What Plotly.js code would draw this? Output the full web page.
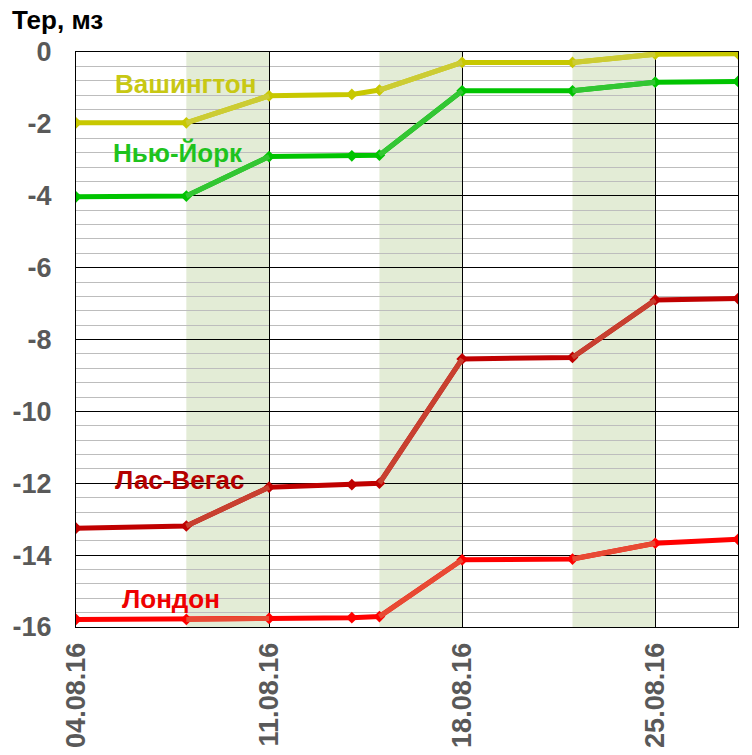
<!DOCTYPE html>
<html>
<head>
<meta charset="utf-8">
<script src="https://cdn.plot.ly/plotly-3.0.1.min.js"></script>
<style>html,body{margin:0;padding:0;background:#fff}#chart{width:752px;height:755px}</style>
</head>
<body>
<div id="chart"></div>
<script>
// ---- data ----
const dates = ['2016-08-04','2016-08-08','2016-08-11','2016-08-14','2016-08-15','2016-08-18','2016-08-22','2016-08-25','2016-08-28'];
const washington = [-1.97,-1.97,-1.22,-1.18,-1.06,-0.29,-0.29,-0.06,-0.05];
const newYork    = [-4.03,-4.01,-2.91,-2.89,-2.87,-1.08,-1.08,-0.84,-0.82];
const lasVegas   = [-13.25,-13.19,-12.11,-12.04,-12.00,-8.54,-8.50,-6.90,-6.86];
const london     = [-15.79,-15.79,-15.76,-15.74,-15.71,-14.13,-14.11,-13.67,-13.56];
const seriesNames = ['Вашингтон','Нью-Йорк','Лас-Вегас','Лондон'];
const shadeStart = ['2016-08-08','2016-08-15','2016-08-22'];
const shadeEnd   = ['2016-08-11','2016-08-18','2016-08-25'];
const tickDates  = ['2016-08-04','2016-08-11','2016-08-18','2016-08-25'];
const tickLabels = ['04.08.16','11.08.16','18.08.16','25.08.16'];
const yTickVals   = [0,-2,-4,-6,-8,-10,-12,-14,-16];
const yTickLabels = ['0','-2','-4','-6','-8','-10','-12','-14','-16'];
const yTitle = 'Тер, мз';

// ---- styles ----
const seriesValues = [washington, newYork, lasVegas, london];
const baseColors  = ['#c8c800','#00c400','#c00000','#ff0000'];
const lightColors = ['#cccc33','#33c633','#c84030','#e84a34'];
const textColors  = ['#c8c814','#1ec31e','#b40000','#ee0000'];
const labelPos = [[0.1647,0.944],[0.154,0.824],[0.156,0.2557],[0.1435,0.0487]];

function inShade(a,b){
  for(let k=0;k<shadeStart.length;k++){
    if(a>=shadeStart[k] && b<=shadeEnd[k]) return true;
  }
  return false;
}

const traces = [];
seriesValues.forEach((vals,si)=>{
  traces.push({
    x: dates, y: vals, type:'scatter', mode:'lines+markers',
    line:{color:baseColors[si], width:5},
    marker:{symbol:'diamond', size:9, color:baseColors[si]},
    hoverinfo:'skip', showlegend:false
  });
  for(let i=0;i<dates.length-1;i++){
    if(inShade(dates[i],dates[i+1])){
      traces.push({
        x:[dates[i],dates[i+1]], y:[vals[i],vals[i+1]], type:'scatter', mode:'lines',
        line:{color:lightColors[si], width:5},
        hoverinfo:'skip', showlegend:false
      });
    }
  }
});

const shapes = shadeStart.map((s,k)=>({
  type:'rect', xref:'x', yref:'paper', x0:s, x1:shadeEnd[k], y0:0, y1:1,
  fillcolor:'#e3ecd6', line:{width:0}, layer:'below'
}));

const annotations = seriesNames.map((n,si)=>({
  text:n, xref:'paper', yref:'paper', x:labelPos[si][0], y:labelPos[si][1],
  xanchor:'center', yanchor:'middle', showarrow:false,
  font:{family:'Liberation Sans, Arial, sans-serif', size:26, color:textColors[si], weight:'bold'}
}));

const tickFont = {family:'Liberation Sans, Arial, sans-serif', size:27, color:'#595959', weight:'bold'};

const layout = {
  width:752, height:755,
  margin:{l:76, r:14, t:52, b:128},
  paper_bgcolor:'#ffffff', plot_bgcolor:'#ffffff',
  title:{text:yTitle, xref:'container', yref:'container', x:0.016, xanchor:'left', y:0.9735, yanchor:'middle',
    font:{family:'Liberation Sans, Arial, sans-serif', size:26, color:'#000000', weight:'bold'}},
  xaxis:{
    type:'date', range:['2016-08-04','2016-08-28'],
    tickmode:'array', tickvals:tickDates, ticktext:tickLabels, tickangle:-90,
    showgrid:true, gridcolor:'#000000', gridwidth:1,
    showline:true, mirror:true, linecolor:'#000000', linewidth:1,
    ticks:'', tickfont:tickFont, ticklabelstandoff:4, zeroline:false, fixedrange:true
  },
  yaxis:{
    range:[-16,0], tickmode:'array', tickvals:yTickVals, ticktext:yTickLabels,
    showgrid:true, gridcolor:'#000000', gridwidth:1,
    minor:{dtick:0.4, tick0:0, showgrid:true, gridcolor:'#bdbdbd', gridwidth:1, ticks:''},
    showline:true, mirror:true, linecolor:'#000000', linewidth:1,
    ticks:'', tickfont:tickFont, ticklabelstandoff:18, zeroline:false, fixedrange:true
  },
  shapes:shapes,
  annotations:annotations,
  showlegend:false
};

Plotly.newPlot('chart', traces, layout, {staticPlot:true, displayModeBar:false});
</script>
</body>
</html>
